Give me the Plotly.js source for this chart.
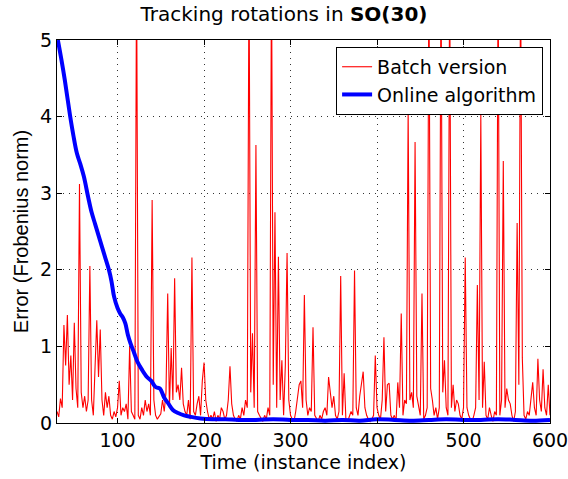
<!DOCTYPE html>
<html>
<head>
<meta charset="utf-8">
<script src="https://cdn.plot.ly/plotly-3.0.1.min.js"></script>
<style>html,body{margin:0;padding:0;background:#fff;}#chart{width:568px;height:479px;}</style>
</head>
<body>
<div id="chart"></div>
<script>
// Batch version: error sampled every 2 instances starting at 30
const batchStart = 30;
const batchStep = 2;
const batchErr = [
  0.15,0.08,0.32,0.2,1.28,0.75,1.41,0.5,0.88,0.3,
  1.31,0.45,0.2,3.12,0.4,0.2,0.35,0.15,0.3,2.05,
  0.3,0.1,0.73,1.34,0.6,1.22,0.3,0.1,0.4,0.2,
  0.35,0.1,0.05,0.15,0.08,0.2,0.55,0.1,0.2,0.15,
  0.25,0.05,1.0,0.15,0.1,0.05,6,0.1,0.05,0.2,
  0.1,0.3,0.15,0.25,0.1,2.91,0.3,0.1,0.05,0.08,
  0.12,0.3,0.15,0.4,1.69,0.2,0.98,0.3,1.89,0.4,
  0.5,0.3,0.72,0.25,0.15,0.1,0.3,0.05,2.16,0.15,
  0.1,0.25,0.35,0.1,0.55,0.79,0.3,0.15,0.05,0.1,
  0.05,0.15,0.02,0.1,0.05,0.2,0.15,0.05,0.1,0.3,
  0.74,0.25,0.1,0.05,0.02,0.1,0.05,0.2,0.1,0.3,
  0.2,6,0.4,1.17,0.2,3.63,0.15,0.1,0.05,0.02,
  0.1,0.05,0.2,0.1,6,0.5,2.75,0.2,2.17,0.3,
  0.82,0.1,0.75,2.22,0.3,0.1,0.05,0.02,0.15,0.35,
  0.5,0.55,0.2,1.67,0.3,0.1,0.2,0.15,1.25,0.1,
  0.05,0.02,0.1,0.05,0.15,0.2,0.1,0.6,0.4,0.2,
  0.35,0.1,0.05,0.15,1.92,0.1,0.65,0.05,0.02,0.1,
  0.15,0.1,1.99,0.2,0.1,0.35,0.5,0.67,0.2,0.1,
  0.05,0.02,0.05,0.1,0.88,0.2,0.1,0.05,0.3,1.12,
  0.15,0.5,0.52,0.1,0.05,0.1,0.02,0.53,0.2,1.43,
  0.1,0.3,0.25,4.1,0.3,0.4,0.2,3.67,0.35,0.2,
  0.1,1.69,0.05,0.1,0.2,6,0.45,0.3,0.1,0.2,
  0.05,0.2,6,0.4,0.82,0.2,0.1,6,0.2,0.5,
  0.15,0.3,0.25,0.1,0.05,0.2,2.16,0.2,0.1,0.05,
  0.02,0.1,0.2,1.8,0.3,4.04,0.2,0.8,0.1,0.05,
  0.2,0.1,0.02,0.15,0.1,6,0.1,0.3,3.42,0.2,
  0.45,0.3,0.25,0.1,0.02,0.15,2.61,0.5,6,0.85,
  0.1,0.05,0.15,0.1,0.3,0.53,0.2,0.1,0.84,0.3,
  0.15,0.7,0.2,0.1,0.5,0.1
];

// Online algorithm
const onlineT = [31,35,39,45,49,53,57,61,66,70,74,78,82,86,90,93,96,100,103,106,109,112,115,119,123,128,134,139,144,149,154,159,164,170,177,185,196,210,225,240,260,280,300,320,340,360,380,400,420,440,460,480,500,520,540,560,580,600];
const onlineErr = [5.0,4.75,4.48,4.02,3.75,3.52,3.38,3.22,2.95,2.75,2.6,2.45,2.3,2.15,2.0,1.85,1.65,1.5,1.43,1.38,1.3,1.15,1.04,0.92,0.8,0.7,0.6,0.55,0.47,0.45,0.33,0.25,0.17,0.13,0.1,0.08,0.06,0.05,0.05,0.04,0.04,0.05,0.04,0.04,0.03,0.04,0.03,0.05,0.04,0.03,0.04,0.05,0.04,0.04,0.05,0.04,0.03,0.04];

const xTicks = [100,200,300,400,500,600];
const yTicks = [0,1,2,3,4,5];

const batchT = batchErr.map((_, i) => batchStart + i * batchStep);

const WIDE = 'DejaVu Sans, Verdana, sans-serif';
const NARROW = 'Liberation Sans, Arial, Helvetica, sans-serif';

const traces = [
  {x: batchT, y: batchErr, type: 'scatter', mode: 'lines', name: 'Batch version',
   line: {color: '#ff0000', width: 1.1}},
  {x: onlineT, y: onlineErr, type: 'scatter', mode: 'lines', name: 'Online algorithm',
   line: {color: '#0000ff', width: 4, shape: 'spline'}}
];

const axisCommon = {
  showline: true, linecolor: '#000', linewidth: 1, mirror: 'ticks',
  ticks: 'inside', ticklen: 5, tickcolor: '#000',
  showgrid: true, gridcolor: '#333', griddash: '1px,5px', gridwidth: 1,
  zeroline: false, ticklabeloverflow: 'allow',
  tickfont: {family: WIDE, size: 19, color: '#000'}
};

const layout = {
  width: 568, height: 479,
  margin: {l: 57, r: 18, t: 40, b: 56},
  paper_bgcolor: '#fff', plot_bgcolor: '#fff',
  font: {family: WIDE, color: '#000'},
  title: {text: 'Tracking rotations in <b>SO(30)</b>', font: {family: WIDE, size: 20, color: '#000'},
          x: 0.5, xref: 'container', y: 0.97, yref: 'container', yanchor: 'middle'},
  xaxis: Object.assign({}, axisCommon, {
    range: [30, 600], tickvals: xTicks, ticktext: xTicks.map(String),
    title: {text: 'Time (instance index)', font: {family: WIDE, size: 19, color: '#000'}, standoff: 2}
  }),
  yaxis: Object.assign({}, axisCommon, {
    range: [0, 5], tickvals: yTicks, ticktext: yTicks.map(String),
    title: {text: 'Error (Frobenius norm)', font: {family: NARROW, size: 20, color: '#000'}, standoff: 6}
  }),
  legend: {x: 0.986, xanchor: 'right', y: 0.982, yanchor: 'top',
           bgcolor: '#fff', bordercolor: '#000', borderwidth: 1,
           font: {family: WIDE, size: 19, color: '#000'}, tracegroupgap: 0},
  showlegend: true
};

Plotly.newPlot('chart', traces, layout, {staticPlot: true, displayModeBar: false});
</script>
</body>
</html>
